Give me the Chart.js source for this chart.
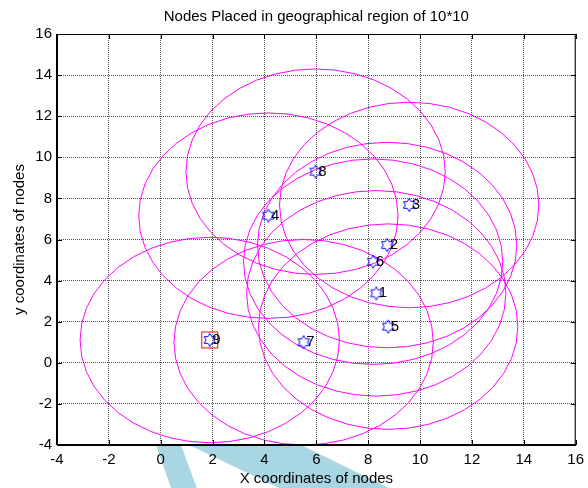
<!DOCTYPE html>
<html>
<head>
<meta charset="utf-8">
<script src="https://cdn.jsdelivr.net/npm/chart.js@4"></script>
<style>
  html, body { margin: 0; padding: 0; background: #fff; }
  canvas { display: block; }
</style>
</head>
<body>
<canvas id="c" width="588" height="488"></canvas>
<script>
// ---- data ----
const titleText = 'Nodes Placed in geographical region of 10*10';
const xAxisLabel = 'X coordinates of nodes';
const yAxisLabel = 'y coordinates of nodes';
const nodeIds = ['1', '2', '3', '4', '5', '6', '7', '8', '9'];
const nodeX = [8.31, 8.73, 9.58, 4.15, 8.77, 8.19, 5.51, 5.97, 1.89];
const nodeY = [3.38, 5.73, 7.68, 7.16, 1.76, 4.92, 1.00, 9.30, 1.11];
const rangeRadius = 5;
const highlightedNode = 8; // index of node "9" (red square)
const axisMin = -4;
const axisMax = 16;
const axisStep = 2;
// light-blue artefact shapes below the axis (data units)
const overlayShapes = [
  [[-0.18, -4.0], [0.78, -4.0], [1.39, -6.1], [0.40, -6.1]],
  [[1.09, -4.0], [5.41, -4.0], [8.81, -6.1], [4.57, -6.1]]
];

const FONT = 'Liberation Sans, Arial, Helvetica, sans-serif';
Chart.defaults.font.family = FONT;

// hexagram marker
function makeHexagram() {
  const s = 16;
  const cv = document.createElement('canvas');
  cv.width = s; cv.height = s;
  const g = cv.getContext('2d');
  const cx = s / 2, cy = s / 2, R = 6.6, r = R / Math.sqrt(3);
  g.beginPath();
  for (let k = 0; k < 12; k++) {
    const a = -Math.PI / 2 + k * Math.PI / 6;
    const rr = (k % 2 === 0) ? R : r;
    const px = cx + rr * Math.cos(a), py = cy + rr * Math.sin(a);
    if (k === 0) g.moveTo(px, py); else g.lineTo(px, py);
  }
  g.closePath();
  g.strokeStyle = '#0000ff';
  g.lineWidth = 1;
  g.stroke();
  return cv;
}
const hexagram = makeHexagram();

const datasets = [];
datasets.push({
  label: 'nodes',
  data: nodeX.map((x, i) => ({ x: x, y: nodeY[i] })),
  pointStyle: hexagram,
  pointRadius: 8,
  showLine: false,
  order: 0
});
datasets.push({
  label: 'highlight',
  data: [{ x: nodeX[highlightedNode], y: nodeY[highlightedNode] }],
  pointStyle: 'rect',
  pointRadius: 11.3,
  pointBorderColor: '#ff0000',
  pointBackgroundColor: 'rgba(0,0,0,0)',
  pointBorderWidth: 1,
  showLine: false,
  order: 0
});
const circleSteps = 40;
nodeX.forEach((cx, i) => {
  const pts = [];
  for (let k = 0; k <= circleSteps; k++) {
    const t = 2 * Math.PI * k / circleSteps;
    pts.push({ x: cx + rangeRadius * Math.cos(t), y: nodeY[i] + rangeRadius * Math.sin(t) });
  }
  datasets.push({
    label: 'range' + nodeIds[i],
    data: pts,
    showLine: true,
    borderColor: '#ff00ff',
    borderWidth: 1,
    pointRadius: 0,
    tension: 0,
    fill: false,
    order: 1
  });
});

const decoPlugin = {
  id: 'deco',
  beforeDraw(chart) {
    const { ctx, scales: { x, y } } = chart;
    ctx.save();
    ctx.fillStyle = '#a8d6e3';
    overlayShapes.forEach(poly => {
      ctx.beginPath();
      poly.forEach((p, k) => {
        const px = x.getPixelForValue(p[0]), py = y.getPixelForValue(p[1]);
        if (k === 0) ctx.moveTo(px, py); else ctx.lineTo(px, py);
      });
      ctx.closePath();
      ctx.fill();
    });
    ctx.restore();
  },
  afterDatasetsDraw(chart) {
    const { ctx, chartArea: a, scales: { x, y } } = chart;
    ctx.save();
    ctx.fillStyle = '#000';
    ctx.font = '15px ' + FONT;
    ctx.textAlign = 'left';
    ctx.textBaseline = 'middle';
    nodeIds.forEach((id, i) => {
      ctx.fillText(id, x.getPixelForValue(nodeX[i] + 0.1), y.getPixelForValue(nodeY[i]));
    });
    ctx.setLineDash([]);
    ctx.strokeStyle = '#000';
    ctx.lineWidth = 1;
    ctx.beginPath();
    ctx.moveTo(a.left, a.top + 0.5); ctx.lineTo(a.right, a.top + 0.5);
    ctx.moveTo(a.right - 0.5, a.top); ctx.lineTo(a.right - 0.5, a.bottom);
    const tl = 5;
    for (let v = axisMin; v <= axisMax; v += axisStep) {
      const px = Math.round(x.getPixelForValue(v)) + 0.5;
      ctx.moveTo(px, a.bottom); ctx.lineTo(px, a.bottom - tl);
      ctx.moveTo(px, a.top); ctx.lineTo(px, a.top + tl);
      const py = Math.round(y.getPixelForValue(v)) + 0.5;
      ctx.moveTo(a.left, py); ctx.lineTo(a.left + tl, py);
      ctx.moveTo(a.right, py); ctx.lineTo(a.right - tl, py);
    }
    ctx.stroke();
    ctx.lineWidth = 2;
    ctx.beginPath();
    ctx.moveTo(a.left, a.bottom); ctx.lineTo(a.right, a.bottom);
    ctx.moveTo(a.left, a.top); ctx.lineTo(a.left, a.bottom);
    ctx.stroke();
    ctx.restore();
  }
};

const tickFont = { family: FONT, size: 15 };
new Chart(document.getElementById('c'), {
  type: 'scatter',
  data: { datasets },
  plugins: [decoPlugin],
  options: {
    responsive: false,
    animation: false,
    devicePixelRatio: 1,
    layout: { padding: { left: 0, right: 8, top: 0, bottom: 0 } },
    plugins: {
      legend: { display: false },
      tooltip: { enabled: false },
      title: {
        display: true,
        fullSize: false,
        text: titleText,
        color: '#000',
        font: { family: FONT, size: 15, weight: 'normal' },
        padding: { top: 7.75, bottom: 8.25 }
      }
    },
    scales: {
      x: {
        type: 'linear',
        min: axisMin, max: axisMax,
        afterFit(s) { s.height = 43; s.paddingLeft = 0; s.paddingRight = 0; },
        ticks: { stepSize: axisStep, color: '#000', font: tickFont, padding: 6, maxRotation: 0 },
        grid: { color: '#555555', drawTicks: false, lineWidth: 1 },
        border: { display: false, dash: [1, 1] },
        title: { display: true, text: xAxisLabel, color: '#000', font: tickFont, padding: { top: 0, bottom: 0.25 } }
      },
      y: {
        type: 'linear',
        min: axisMin, max: axisMax,
        afterFit(s) { s.width = 57; s.paddingTop = 0; s.paddingBottom = 0; },
        ticks: { stepSize: axisStep, color: '#000', font: tickFont, padding: 5 },
        grid: { color: '#555555', drawTicks: false, lineWidth: 1 },
        border: { display: false, dash: [1, 1] },
        title: { display: true, text: yAxisLabel, color: '#000', font: tickFont, padding: { top: 11, bottom: 0 } }
      }
    }
  }
});
</script>
</body>
</html>
